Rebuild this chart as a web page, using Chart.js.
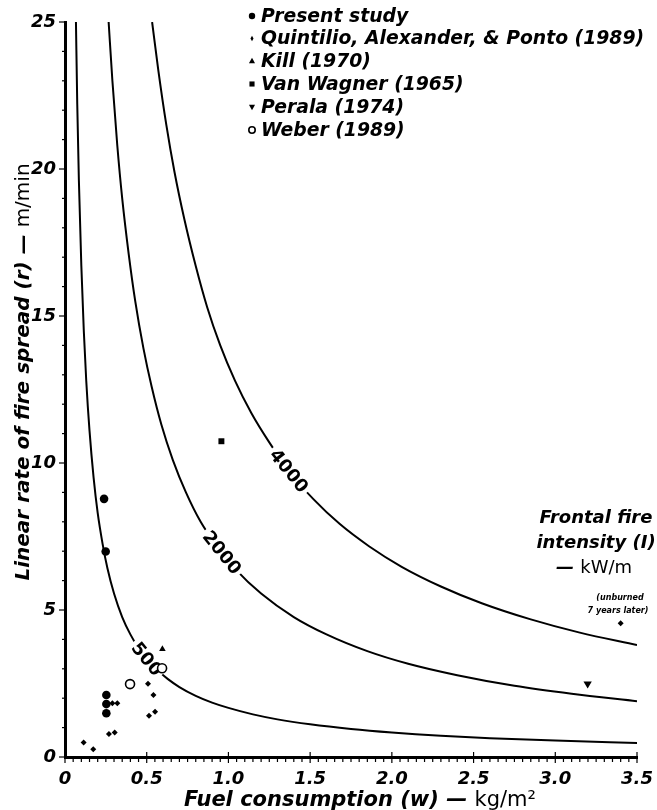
<!DOCTYPE html>
<html>
<head>
<meta charset="utf-8">
<script src="https://cdn.jsdelivr.net/npm/chart.js@4.4.1/dist/chart.umd.min.js"></script>
<style>
  html, body { margin: 0; padding: 0; background: #fff; }
  #wrap { width: 657px; height: 810px; }
</style>
</head>
<body>
<div id="wrap"><canvas id="c" width="657" height="810"></canvas></div>
<script>
// ---------- DATA ----------
const xTickValues = [0, 0.5, 1.0, 1.5, 2.0, 2.5, 3.0, 3.5];
const yTickValues = [0, 5, 10, 15, 20, 25];

// Fuel consumption w (kg/m2) and rate of spread r (m/min)
const wPresent = [0.239, 0.249, 0.253, 0.253, 0.253];
const rPresent = [8.78, 6.99, 2.11, 1.80, 1.49];

const wQuintilio = [0.114, 0.173, 0.269, 0.304, 0.290, 0.320, 0.508, 0.541, 0.514, 0.551, 3.40];
const rQuintilio = [0.49, 0.26, 0.78, 0.83, 1.83, 1.83, 2.49, 2.11, 1.40, 1.54, 4.55];

const wKill = [0.596];
const rKill = [3.67];

const wVanWagner = [0.957];
const rVanWagner = [10.74];

const wPerala = [3.198];
const rPerala = [2.49];

const wWeber = [0.398, 0.594];
const rWeber = [2.48, 3.02];

// Frontal fire intensity isolines (kW/m)
const curve500W  = [0.067, 0.075, 0.085, 0.10, 0.115, 0.13, 0.15, 0.175, 0.20, 0.23, 0.26, 0.30, 0.35, 0.40, 0.45, 0.50, 0.56, 0.63, 0.70, 0.80, 0.90, 1.00, 1.15, 1.30, 1.50, 1.75, 2.00, 2.30, 2.60, 3.00, 3.50];
const curve500R  = [25.0, 22.2, 19.6, 16.7, 14.5, 12.8, 11.1, 9.5, 8.3, 7.25, 6.41, 5.56, 4.76, 4.17, 3.70, 3.33, 2.98, 2.65, 2.38, 2.08, 1.85, 1.67, 1.45, 1.28, 1.11, 0.95, 0.83, 0.72, 0.64, 0.56, 0.48];
const curve2000W = [0.267, 0.29, 0.32, 0.35, 0.39, 0.43, 0.48, 0.53, 0.59, 0.66, 0.74, 0.83, 0.93, 1.05, 1.20, 1.40, 1.60, 1.85, 2.10, 2.40, 2.75, 3.10, 3.50];
const curve2000R = [25.0, 23.0, 20.8, 19.0, 17.1, 15.5, 13.9, 12.6, 11.3, 10.1, 9.0, 8.0, 7.17, 6.35, 5.56, 4.76, 4.17, 3.60, 3.17, 2.78, 2.42, 2.15, 1.90];
const curve4000W = [0.533, 0.57, 0.62, 0.67, 0.73, 0.80, 0.87, 0.95, 1.04, 1.14, 1.25, 1.38, 1.52, 1.68, 1.86, 2.06, 2.30, 2.55, 2.85, 3.15, 3.50];
const curve4000R = [25.0, 23.4, 21.5, 19.9, 18.3, 16.7, 15.3, 14.0, 12.8, 11.7, 10.7, 9.66, 8.77, 7.93, 7.17, 6.47, 5.80, 5.23, 4.68, 4.23, 3.81];

const curveNames = ['500', '2000', '4000'];
// label anchor points on the curves (data units)
const curveLabelAt = [[0.50, 3.33], [0.96, 6.95], [1.37, 9.73]];

const seriesNames = ['Present study', 'Quintilio, Alexander, & Ponto (1989)', 'Kill (1970)',
                     'Van Wagner (1965)', 'Perala (1974)', 'Weber (1989)'];

// ---------- build ----------
const zip = (xs, ys) => xs.map((x, i) => ({ x: x, y: ys[i] }));
const BOLDIT = 'italic bold ';
const FAM = '"DejaVu Sans", "Liberation Sans", sans-serif';

function curveDs(name, xs, ys) {
  return { label: 'I=' + name, data: zip(xs, ys), showLine: true, pointRadius: 0,
           borderColor: '#000', borderWidth: 2, cubicInterpolationMode: 'monotone',
           fill: false, order: 10, isCurve: true, curveName: name };
}
const markerDefs = [
  { pointStyle: 'circle', radius: 4.3, fill: '#000', bw: 0 },
  { pointStyle: 'rectRot', radius: 3, fill: '#000', bw: 0 },
  { pointStyle: 'triangle', radius: 3.8, fill: '#000', bw: 0 },
  { pointStyle: 'rect', radius: 4.2, fill: '#000', bw: 0 },
  { pointStyle: 'triangle', radius: 4.8, fill: '#000', bw: 0, rotation: 180 },
  { pointStyle: 'circle', radius: 4.5, fill: '#fff', bw: 1.6 }
];
const pointSets = [zip(wPresent, rPresent), zip(wQuintilio, rQuintilio), zip(wKill, rKill),
                   zip(wVanWagner, rVanWagner), zip(wPerala, rPerala), zip(wWeber, rWeber)];

const datasets = [];
pointSets.forEach((d, i) => {
  const m = markerDefs[i];
  datasets.push({ label: seriesNames[i], data: d, showLine: false,
    pointStyle: m.pointStyle, pointRadius: m.radius, pointRotation: m.rotation || 0,
    pointBackgroundColor: m.fill, pointBorderColor: '#000', pointBorderWidth: m.bw,
    order: 0 });
});
datasets.push(curveDs('500', curve500W, curve500R));
datasets.push(curveDs('2000', curve2000W, curve2000R));
datasets.push(curveDs('4000', curve4000W, curve4000R));

function drawMarker(ctx, m, x, y) {
  ctx.save();
  ctx.fillStyle = m.fill; ctx.strokeStyle = '#000'; ctx.lineWidth = m.bw || 1;
  ctx.translate(x, y);
  if (m.rotation) ctx.rotate(m.rotation * Math.PI / 180);
  const r = m.radius;
  ctx.beginPath();
  if (m.pointStyle === 'circle') ctx.arc(0, 0, r, 0, Math.PI * 2);
  else if (m.pointStyle === 'rect') ctx.rect(-r * 0.8, -r * 0.8, r * 1.6, r * 1.6);
  else if (m.pointStyle === 'rectRot') { ctx.moveTo(0, -r * 1.3); ctx.lineTo(r * 0.7, 0); ctx.lineTo(0, r * 1.3); ctx.lineTo(-r * 0.7, 0); ctx.closePath(); }
  else if (m.pointStyle === 'triangle') { ctx.moveTo(0, -r); ctx.lineTo(r * 0.95, r * 0.7); ctx.lineTo(-r * 0.95, r * 0.7); ctx.closePath(); }
  ctx.fill();
  if (m.bw) ctx.stroke();
  ctx.restore();
}

function drawMixed(ctx, boldPart, plainPart, cx, cy, size) {
  ctx.save();
  ctx.textBaseline = 'middle';
  ctx.textAlign = 'left';
  ctx.font = BOLDIT + size + 'px ' + FAM;
  const w1 = ctx.measureText(boldPart).width;
  ctx.font = size + 'px ' + FAM;
  const w2 = ctx.measureText(plainPart).width;
  const x0 = cx - (w1 + w2) / 2;
  ctx.font = BOLDIT + size + 'px ' + FAM;
  ctx.fillText(boldPart, x0, cy);
  ctx.font = size + 'px ' + FAM;
  ctx.fillText(plainPart, x0 + w1, cy);
  ctx.restore();
}

const deco = {
  id: 'deco',
  afterDatasetDraw(chart, args) {
    const ds = chart.data.datasets[args.index];
    if (!ds.isCurve) return;
    const k = curveNames.indexOf(ds.curveName);
    const xs = chart.scales.x, ys = chart.scales.y, ctx = chart.ctx;
    const px = xs.getPixelForValue(curveLabelAt[k][0]);
    const py = ys.getPixelForValue(curveLabelAt[k][1]);
    ctx.save();
    ctx.translate(px, py);
    ctx.rotate(51 * Math.PI / 180);
    ctx.font = 'bold 18px ' + FAM;
    const tw = ctx.measureText(ds.curveName).width;
    ctx.fillStyle = '#fff';
    ctx.fillRect(-tw / 2 - 3, -8, tw + 6, 16);
    ctx.fillStyle = '#000';
    ctx.textAlign = 'center'; ctx.textBaseline = 'middle';
    ctx.fillText(ds.curveName, 0, 1);
    ctx.restore();
  },
  afterDraw(chart) {
    const ctx = chart.ctx, xs = chart.scales.x, ys = chart.scales.y, ca = chart.chartArea;
    ctx.save();
    ctx.strokeStyle = '#000';
    ctx.lineWidth = 1.2;
    for (let i = 0; i <= 70; i++) {
      const x = xs.getPixelForValue(i * 0.05);
      const major = i % 10 === 0;
      ctx.beginPath();
      ctx.moveTo(x, ca.bottom + (major ? -5 : 0));
      ctx.lineTo(x, ca.bottom + (major ? 6 : 5));
      ctx.stroke();
    }
    for (let v = 0; v <= 25; v++) {
      const y = ys.getPixelForValue(v);
      const major = v % 5 === 0;
      ctx.beginPath();
      ctx.moveTo(ca.left - (major ? 6 : 3), y);
      ctx.lineTo(ca.left, y);
      ctx.stroke();
    }
    ctx.restore();

    // legend
    ctx.save();
    ctx.fillStyle = '#000';
    ctx.font = BOLDIT + '18.8px ' + FAM;
    ctx.textBaseline = 'middle';
    const rows = [16, 38.5, 61, 84, 107, 130];
    seriesNames.forEach((name, i) => {
      const m = Object.assign({}, markerDefs[i]);
      m.radius = Math.min(m.radius, 3.2);
      if (i === 1) m.radius = 2.2;
      drawMarker(ctx, m, 252, rows[i]);
      ctx.fillStyle = '#000';
      ctx.fillText(name, 261, rows[i] + 1);
    });
    ctx.restore();

    // Frontal fire intensity
    ctx.save();
    ctx.fillStyle = '#000';
    ctx.textAlign = 'center'; ctx.textBaseline = 'middle';
    ctx.font = BOLDIT + '18px ' + FAM;
    ctx.fillText('Frontal fire', 596, 518);
    ctx.fillText('intensity (I)', 596, 543);
    drawMixed(ctx, '— ', 'kW/m', 594, 568, 18);
    ctx.font = BOLDIT + '8px ' + FAM;
    ctx.fillText('(unburned', 620, 598);
    ctx.fillText('7 years later)', 618, 611);
    ctx.restore();

    // axis titles
    ctx.save();
    ctx.fillStyle = '#000';
    drawMixed(ctx, 'Fuel consumption (w) — ', 'kg/m²', 360, 801, 21);
    ctx.translate(24, 372);
    ctx.rotate(-Math.PI / 2);
    drawMixed(ctx, 'Linear rate of fire spread (r) — ', 'm/min', 0, 0, 20);
    ctx.restore();
  }
};

const tickFont = { family: FAM, size: 18, weight: 'bold', style: 'italic' };

new Chart(document.getElementById('c'), {
  type: 'scatter',
  data: { datasets: datasets },
  options: {
    responsive: false, animation: false, devicePixelRatio: 1,
    layout: { padding: { left: 0, right: 20, top: 22, bottom: 0 } },
    plugins: { legend: { display: false }, tooltip: { enabled: false } },
    scales: {
      x: {
        type: 'linear', min: 0, max: 3.5,
        afterBuildTicks: s => { s.ticks = xTickValues.map(v => ({ value: v })); },
        afterFit: s => { s.height = 53; s.paddingLeft = 0; s.paddingRight = 0; },
        grid: { display: false, drawTicks: false },
        border: { display: true, width: 3, color: '#000' },
        ticks: { font: tickFont, color: '#000', padding: 12, maxRotation: 0,
                 callback: v => v === 0 ? '0' : v.toFixed(1) }
      },
      y: {
        type: 'linear', min: 0, max: 25,
        afterBuildTicks: s => { s.ticks = yTickValues.map(v => ({ value: v })); },
        afterFit: s => { s.width = 65; s.paddingTop = 0; s.paddingBottom = 0; },
        grid: { display: false, drawTicks: false },
        border: { display: true, width: 3, color: '#000' },
        ticks: { font: tickFont, color: '#000', padding: 9, callback: v => String(v) }
      }
    }
  },
  plugins: [deco]
});
</script>
</body>
</html>
